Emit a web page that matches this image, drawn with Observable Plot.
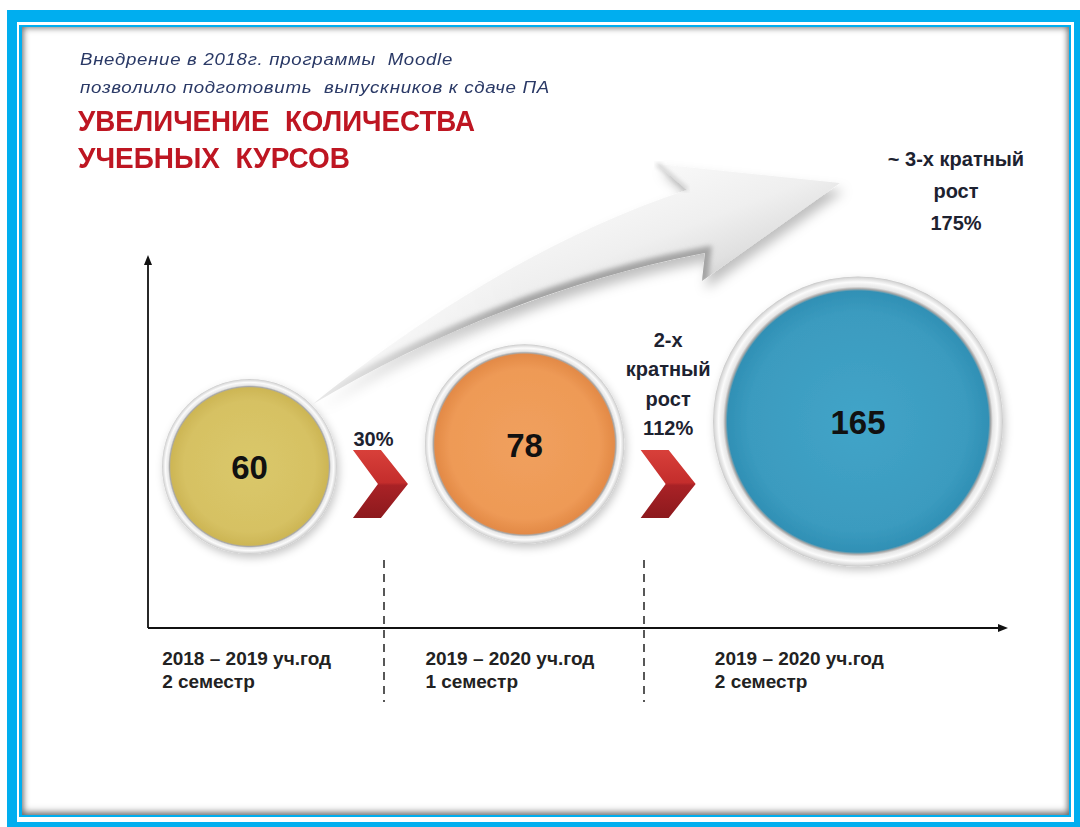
<!DOCTYPE html>
<html lang="ru">
<head>
<meta charset="utf-8">
<script src="https://cdn.jsdelivr.net/npm/d3@7"></script>
<script src="https://cdn.jsdelivr.net/npm/@observablehq/plot@0.6"></script>
<style>
  html, body { margin:0; padding:0; background:#fff; }
  #stage { position:relative; width:1080px; height:827px; overflow:hidden; font-family:'Liberation Sans', Arial, sans-serif; }
  .box { position:absolute; }
  #chart { position:absolute; left:0; top:0; }
  .line { position:absolute; white-space:pre; display:inline-block; transform-origin:0 0; line-height:1; }
</style>
</head>
<body>
<div id="stage">
  <div class="box" style="left:7px;top:10px;right:0;bottom:0;background:#00AEEF"></div>
  <div class="box" style="left:17px;top:22px;width:1057px;height:800px;background:#fff"></div>
  <div class="box" style="left:19px;top:24.5px;width:1052px;height:792.5px;background:#00AEEF"></div>
  <div class="box" style="left:22px;top:27px;width:1047px;height:788px;background:#fff;box-shadow:inset 0 0 6px 1px rgba(0,0,0,.5), inset 0 -4px 7px rgba(0,0,0,.25)"></div>
  <div id="chart"></div>
  <div id="titles"></div>
</div>
<script>
// ---------------- data ----------------
const noteLines = ["Внедрение в 2018г. программы  Moodle", "позволило подготовить  выпускников к сдаче ПА"];
const titleLines = ["УВЕЛИЧЕНИЕ  КОЛИЧЕСТВА", "УЧЕБНЫХ  КУРСОВ"];
const periodYears = ["2018 – 2019 уч.год", "2019 – 2020 уч.год", "2019 – 2020 уч.год"];
const periodTerms = ["2 семестр", "1 семестр", "2 семестр"];
const courses = [60, 78, 165];
const growthLabels = [["30%"], ["2-х", "кратный", "рост", "112%"], ["~ 3-х кратный", "рост", "175%"]];

// ---------------- styles / layout ----------------
const circleStyle = [
  {light: "#DAC86A", base: "#D6C163", dark: "#CDB655"},
  {light: "#F0A05E", base: "#EE9A56", dark: "#E38A47"},
  {light: "#42A4C8", base: "#3B9BBF", dark: "#3090B5"}
];
const L = {
  noteX: 80, noteBase: [66, 94], noteWidth: [373, 470], noteSize: 16,
  titleX: 78, titleBase: [131, 168], titleWidth: [397, 272], titleSize: 30,
  xRange: [249, 857.5], yRange: [466, 421], rMax: 145, gap: 7.5,
  axisX: 148, axisY: 628, axisTop: 255, axisRight: 1008,
  dashX: [384, 644], dashTop: 560, dashBottom: 702,
  chevronY: 484, labelBase: [665, 688],
  growthGap: [4, 15], growthStep: 29.5,
  growth3: {x: 956, base: 166, step: 32}
};
const ARROW = "M313,404 C380,350 520,245 687,190 L657,164 L840,183 L702,281 L705,253 C560,280 420,340 313,404 Z";
const ARROW_LOWER = "M313,404 C420,340 560,280 705,253 L702,281";

// table built from the arrays
const table = courses.map((v, i) => ({i, value: v, years: periodYears[i], term: periodTerms[i], pos: 0}));
let acc = 0;
for (let i = 1; i < table.length; i++) {
  acc += Math.sqrt(courses[i - 1]) + Math.sqrt(courses[i]) + L.gap;
  table[i].pos = acc;
}
const xDomain = [0, acc], yDomain = [0, courses.length - 1], rDomain = [0, d3.max(courses)];

function sc(scales) {
  return {
    x: scales && scales.x ? scales.x : d3.scaleLinear(xDomain, L.xRange),
    y: scales && scales.y ? scales.y : d3.scaleLinear(yDomain, L.yRange),
    r: scales && scales.r ? scales.r : d3.scaleSqrt(rDomain, [0, L.rMax])
  };
}
function chevronXs(S) {
  const out = [];
  for (let i = 0; i < table.length - 1; i++) {
    const a = S.x(table[i].pos) + S.r(table[i].value);
    const b = S.x(table[i + 1].pos) - S.r(table[i + 1].value);
    out.push((a + b) / 2);
  }
  return out;
}

function defsMark() {
  const d = d3.create("svg:defs");
  circleStyle.forEach((c, i) => {
    const g = d.append("radialGradient").attr("id", "cg" + i).attr("cx", "50%").attr("cy", "50%").attr("r", "50%");
    [[0, c.light], [0.75, c.base], [0.9, c.dark], [0.915, "#a8a8a8"], [0.93, "#e6e6e6"], [0.962, "#fbfbfb"], [0.99, "#dadada"], [1, "#c6c6c6"]]
      .forEach(([o, col]) => g.append("stop").attr("offset", o).attr("stop-color", col));
  });
  const cs = d.append("filter").attr("id", "cshadow").attr("x", "-20%").attr("y", "-20%").attr("width", "140%").attr("height", "140%");
  cs.append("feDropShadow").attr("dx", 2).attr("dy", 4).attr("stdDeviation", 4).attr("flood-color", "#000").attr("flood-opacity", 0.22);
  const af = d.append("linearGradient").attr("id", "arrowFill").attr("gradientUnits", "userSpaceOnUse")
    .attr("x1", 640).attr("y1", 170).attr("x2", 690).attr("y2", 300);
  [[0, "#f9f9f9"], [0.5, "#efefef"], [0.8, "#e0e0e0"], [1, "#cccccc"]]
    .forEach(([o, col]) => af.append("stop").attr("offset", o).attr("stop-color", col));
  const fade = d.append("linearGradient").attr("id", "fadeGrad").attr("gradientUnits", "userSpaceOnUse")
    .attr("x1", 305).attr("y1", 0).attr("x2", 520).attr("y2", 0);
  fade.append("stop").attr("offset", 0).attr("stop-color", "#fff").attr("stop-opacity", 0.2);
  fade.append("stop").attr("offset", 1).attr("stop-color", "#fff").attr("stop-opacity", 1);
  const m = d.append("mask").attr("id", "arrowMask").attr("maskUnits", "userSpaceOnUse")
    .attr("x", 0).attr("y", 0).attr("width", 1080).attr("height", 827);
  m.append("rect").attr("x", 0).attr("y", 0).attr("width", 1080).attr("height", 827).attr("fill", "url(#fadeGrad)");
  d.append("clipPath").attr("id", "arrowClip").append("path").attr("d", ARROW);
  const as = d.append("filter").attr("id", "arrowShadow").attr("x", "-20%").attr("y", "-20%").attr("width", "150%").attr("height", "150%");
  as.append("feDropShadow").attr("dx", 4).attr("dy", 8).attr("stdDeviation", 6).attr("flood-color", "#000").attr("flood-opacity", 0.25);
  d.append("filter").attr("id", "soft").append("feGaussianBlur").attr("stdDeviation", 2.5);
  const ch = d.append("linearGradient").attr("id", "chev").attr("x1", 0).attr("y1", 0).attr("x2", 0).attr("y2", 1);
  [[0, "#D8403A"], [0.48, "#C42D2C"], [0.52, "#A92226"], [1, "#8C191D"]]
    .forEach(([o, col]) => ch.append("stop").attr("offset", o).attr("stop-color", col));
  return d.node();
}

function decorBack(index, scales) {
  const S = sc(scales);
  const g = d3.create("svg:g");
  // big swoosh arrow
  const ga = g.append("g").attr("mask", "url(#arrowMask)");
  ga.append("path").attr("d", ARROW).attr("fill", "url(#arrowFill)").attr("filter", "url(#arrowShadow)");
  ga.append("path").attr("d", ARROW_LOWER).attr("fill", "none").attr("stroke", "#a4a4a4")
    .attr("stroke-width", 12).attr("clip-path", "url(#arrowClip)").attr("filter", "url(#soft)");
  ga.append("path").attr("d", "M657,164 L687,190").attr("stroke", "#b4b4b4").attr("stroke-width", 2.5).attr("filter", "url(#soft)");
  // axes
  g.append("line").attr("x1", L.axisX).attr("y1", L.axisY).attr("x2", L.axisX).attr("y2", L.axisTop + 8)
    .attr("stroke", "#111").attr("stroke-width", 1.8);
  g.append("line").attr("x1", L.axisX).attr("y1", L.axisY).attr("x2", L.axisRight - 8).attr("y2", L.axisY)
    .attr("stroke", "#111").attr("stroke-width", 1.8);
  g.append("path").attr("d", `M${L.axisX},${L.axisTop} L${L.axisX - 4},${L.axisTop + 10} L${L.axisX + 4},${L.axisTop + 10} Z`).attr("fill", "#111");
  g.append("path").attr("d", `M${L.axisRight},${L.axisY} L${L.axisRight - 10},${L.axisY - 4} L${L.axisRight - 10},${L.axisY + 4} Z`).attr("fill", "#111");
  // dashed separators
  L.dashX.forEach(x => g.append("line").attr("x1", x).attr("x2", x).attr("y1", L.dashTop).attr("y2", L.dashBottom)
    .attr("stroke", "#111").attr("stroke-width", 1.4).attr("stroke-dasharray", "8,6"));
  // period labels (left-aligned under each circle)
  table.forEach(d => {
    const x = S.x(d.pos) - S.r(d.value) * 0.97 - 2;
    const t = g.append("text").attr("font-size", 19).attr("font-weight", "bold").attr("fill", "#222")
      .attr("text-anchor", "start");
    t.append("tspan").attr("x", x).attr("y", L.labelBase[0]).text(d.years);
    t.append("tspan").attr("x", x).attr("y", L.labelBase[1]).text(d.term);
  });
  return g.node();
}

function decorFront(index, scales) {
  const S = sc(scales);
  const g = d3.create("svg:g");
  const cx = chevronXs(S);
  const cy = L.chevronY;
  cx.forEach((x, i) => {
    const pts = [[x - 27.5, cy - 34], [x + 0.5, cy - 34], [x + 27.5, cy], [x + 0.5, cy + 34], [x - 27.5, cy + 34], [x - 2.5, cy]];
    g.append("path").attr("d", "M" + pts.map(p => p.join(",")).join("L") + "Z").attr("fill", "url(#chev)");
    const lines = growthLabels[i];
    const last = cy - 34 - L.growthGap[i];
    const t = g.append("text").attr("font-size", 20).attr("font-weight", "bold").attr("fill", "#1d2230").attr("text-anchor", "middle");
    lines.forEach((s, k) => t.append("tspan").attr("x", x - (i === 0 ? 7 : 0)).attr("y", last - (lines.length - 1 - k) * L.growthStep).text(s));
  });
  const lines = growthLabels[growthLabels.length - 1];
  const t = g.append("text").attr("font-size", 20).attr("font-weight", "bold").attr("fill", "#1d2230").attr("text-anchor", "middle");
  lines.forEach((s, k) => t.append("tspan").attr("x", L.growth3.x).attr("y", L.growth3.base + k * L.growth3.step).text(s));
  return g.node();
}

const chart = Plot.plot({
  width: 1080, height: 827, margin: 0,
  style: {background: "transparent", fontFamily: "'Liberation Sans', Arial, sans-serif", overflow: "visible"},
  x: {type: "linear", domain: xDomain, range: L.xRange, axis: null},
  y: {type: "linear", domain: yDomain, range: L.yRange, axis: null},
  r: {type: "sqrt", domain: rDomain, range: [0, L.rMax]},
  color: {type: "identity"},
  marks: [
    defsMark,
    decorBack,
    Plot.dot(table, {x: "pos", y: "i", r: "value", fill: d => `url(#cg${d.i})`, stroke: "none"}),
    Plot.text(table, {x: "pos", y: "i", text: d => String(d.value), fontSize: 33, fontWeight: "bold", fill: "#111", dy: 2}),
    decorFront
  ]
});
chart.querySelectorAll('g[aria-label="dot"]').forEach(g => g.setAttribute("filter", "url(#cshadow)"));
document.getElementById("chart").appendChild(chart);

// titles
const titles = document.getElementById("titles");
function addLine(text, x, base, size, style, target) {
  const el = document.createElement("div");
  el.className = "line";
  el.textContent = text;
  el.style.cssText += style;
  el.style.fontSize = size + "px";
  el.style.left = x + "px";
  el.style.top = (base - 0.8465 * size) + "px";
  titles.appendChild(el);
  const w = el.getBoundingClientRect().width;
  if (w > 0) el.style.transform = `scaleX(${target / w})`;
}
noteLines.forEach((s, i) => addLine(s, L.noteX, L.noteBase[i], L.noteSize,
  "font-style:italic;letter-spacing:0.6px;color:#2a3966;", L.noteWidth[i]));
titleLines.forEach((s, i) => addLine(s, L.titleX, L.titleBase[i], L.titleSize,
  "font-weight:bold;color:#BE1622;", L.titleWidth[i]));
</script>
</body>
</html>
